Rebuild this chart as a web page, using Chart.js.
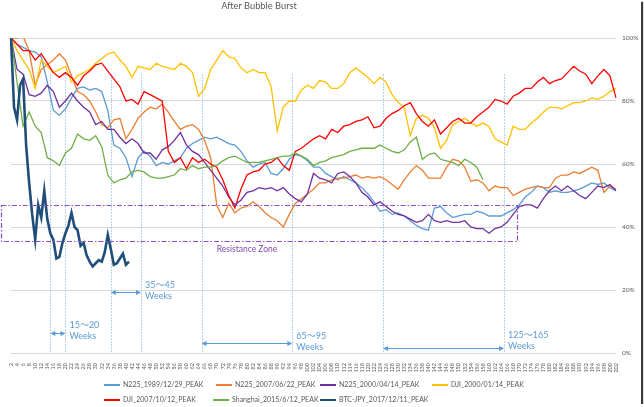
<!DOCTYPE html>
<html>
<head>
<meta charset="utf-8">
<script src="https://cdn.jsdelivr.net/npm/chart.js@4.4.0/dist/chart.umd.min.js"></script>
<style>
  body { margin: 0; background: #fff; }
  #wrap { position: relative; width: 641px; height: 404px; background: #fff; box-shadow: 2px 2px 1px #3c3c3c;
          font-family: Lato, "Noto Sans CJK JP", sans-serif; color: #595959; }
  #chart { position: absolute; left: 0; top: 0; }
  #title { position: absolute; left: 0; top: 0; width: 518px; text-align: center; font-size: 9.3px; line-height: 11px; }
  .leg { position: absolute; font-size: 7px; line-height: 10px; white-space: nowrap; }
  .leg i { display: inline-block; width: 16px; vertical-align: middle; margin-right: 3px; }
</style>
</head>
<body>
<div id="wrap">
  <canvas id="chart" width="641" height="404"></canvas>
  <div id="title">After Bubble Burst</div>
  <div id="legend"></div>
</div>
<script>
// weeks after the peak (category axis)
const weeks = Array.from({ length: 201 }, (_, i) => i + 2);

const seriesNames = ['N225_1989/12/29_PEAK', 'N225_2007/06/22_PEAK', 'N225_2000/04/14_PEAK', 'DJI_2000/01/14_PEAK',
                     'DJI_2007/10/12_PEAK', 'Shanghai_2015/6/12_PEAK', 'BTC-JPY_2017/12/11_PEAK'];
const seriesColors = ['#5B9BD5', '#ED7D31', '#7030A0', '#FFC000', '#FF0000', '#70AD47', '#1F4E79'];

// % of peak, read every 2 weeks (week 2, 4, 6 ...)
const n225_1989 = [
  100, 98, 97, 96, 95.5, 94, 86, 77, 75.5, 77.5,
  81, 84, 84.5, 83.5, 84, 83, 77, 66, 65, 62,
  56, 62, 64, 62.5, 59.5, 60.5, 60, 61, 62, 65,
  66.5, 67.5, 68.5, 68, 68.5, 67.5, 66.5, 66, 64, 61,
  59, 60, 60.5, 57, 56.5, 58.5, 61.5, 63, 62.5, 61,
  59, 59, 57, 56, 55, 56, 55, 54, 52.5, 50.5,
  48, 45, 45.5, 44, 44.5, 43.5, 42, 40.5, 39.5, 39,
  46, 46.5, 44.5, 43, 43.5, 44, 44, 45, 44.5, 43.5,
  43.5, 43.5, 44.5, 45.5, 47, 49.5, 51, 53, 52.5, 51,
  51.5, 51, 51, 51.5, 52, 53, 54, 53.5, 54, 52.5,
  51.5
];
const n225_2007 = [
  100, 100, 100.5, 96, 85, 90, 91.5, 93, 95, 93,
  88, 83, 82, 80, 76.5, 72.5, 71.5, 74, 74.5, 68,
  71, 74.5, 76.5, 78, 77.5, 79, 76.5, 73.5, 71, 72,
  72.5, 71, 67.5, 62, 47, 43, 47.5, 44.5, 46, 46.5,
  48, 46.5, 44.5, 43, 42, 40, 44, 47.5, 49, 50.5,
  52, 54, 54, 55, 55.5, 55.5, 56, 56.5, 55.5, 56,
  55.5, 56, 55, 53.5, 52, 55, 57.5, 59.5, 58, 55.5,
  55.5, 55.5, 59, 61.5, 61, 59, 54.5, 55, 54, 51.5,
  53, 52.5, 52.5, 50, 51, 52, 52.5, 53, 52.5, 52.5,
  55.5, 56.5, 56.5, 57.5, 57, 58, 59, 58, 51, 53,
  52
];
const n225_2000 = [
  100, 90, 88.5, 82, 81.5, 82.5, 85, 83, 78, 80,
  82.5, 80, 78, 76.5, 72.5, 73.5, 71, 71, 68.5, 66.5,
  68, 66.5, 63.5, 63.5, 61.5, 64.5, 65.5, 67.5, 70, 66,
  64, 63, 60.5, 58, 55.5, 53, 49.5, 47, 48.5, 51,
  51.5, 52.5, 52, 52.5, 51.5, 52.5, 50.5, 49, 48, 50.5,
  57, 55.5, 55, 54, 57, 57.5, 56, 54, 51, 49.5,
  47, 48, 46.5, 45, 44, 43.5, 42.5, 41.5, 42, 44,
  42, 41.5, 42, 41.5, 41.5, 42, 40, 39.5, 39.5, 38,
  39.5, 40, 41.5, 44, 46.5, 47, 47, 46, 49, 51.5,
  53, 51.5, 53, 51.5, 50, 49, 51, 53, 52.5, 53.5,
  51.5
];
const dji_2000 = [
  100, 96, 93, 90, 84, 93, 91, 89, 90, 91,
  86, 88, 89, 90, 92, 93.5, 95, 95.5, 93, 91,
  87.5, 91, 90.5, 90, 92, 91, 90.5, 90, 92, 91,
  89, 81.5, 84, 90, 93, 96, 94, 93.5, 90.5, 89,
  90, 89, 89, 84.5, 70.5, 78, 80, 80, 83.5, 85,
  84, 86.5, 86, 84, 84, 85.5, 89, 90.5, 89, 87.5,
  85.5, 87.5, 86, 82, 79.5, 78, 69, 74.5, 75.5, 74.5,
  71.5, 65, 67.5, 72.5, 73.5, 74.5, 73, 72, 73, 72,
  68, 67, 66, 72, 71, 71, 73, 74.5, 76.5, 78,
  78, 77.5, 78.5, 79.5, 79.5, 80, 81, 80.5, 81.5, 83,
  84
];
const dji_2007 = [
  100, 98, 96, 96, 93, 95, 92, 89, 87.5, 89,
  87.5, 85, 88, 89.5, 91.5, 92, 89.5, 87, 84.5, 80,
  80.5, 79, 83, 82, 81, 80, 64, 60.5, 62, 58.5,
  62, 60.5, 61.5, 60, 59, 55, 50, 46, 52, 56.5,
  57.5, 58, 60, 60.5, 62, 59.5, 58, 64, 65, 66.5,
  68, 69, 68, 71, 70, 72, 72.5, 73.5, 74, 75,
  71.5, 72, 74.5, 76, 77, 78.5, 79.5, 76, 73.5, 72,
  74, 69.5, 71.5, 73.5, 74.5, 73, 73, 75, 76.5, 78,
  80.5, 80, 79, 81.5, 82.5, 84, 84, 86, 87.5, 85.5,
  86.5, 87, 89, 91, 89.5, 88.5, 85.5, 88, 90, 88,
  81
];
const shanghai_2015 = [
  100, 86, 72, 76.5, 72, 70, 62, 61, 59.5, 63.5,
  65, 69.5, 68, 67.5, 69, 65.5, 56.5, 54, 55, 55.5,
  57.5, 58, 57.5, 56, 55.5, 55.5, 56, 56.5, 58.5, 58,
  59.5, 58.5, 59, 59, 59.5, 61, 62, 62.5, 61.5, 60.5,
  60.5, 60.5, 61, 61.5, 62, 62.5, 62.5, 63.5, 62.5, 61.5,
  59.5, 60.5, 61, 62, 62.5, 63, 64, 64.5, 65, 65,
  65, 66, 65, 64, 63.5, 64.5, 67, 68.5, 61.5, 63,
  63.5, 61.5, 61, 60.5, 59.5, 61.5, 60.5, 59, 55
];
// BTC read every week (week 2, 3, 4 ...)
const btc_2017 = [
  100, 78, 74, 85, 87, 66, 54, 44, 36, 47,
  43, 51.5, 42.5, 38, 36, 30, 30.5, 35, 38, 40.5,
  44.5, 40, 39, 34, 35, 31, 29, 27.5, 28.5, 29.5,
  29, 32, 37.5, 33, 28, 28.5, 30, 31.5, 28, 29
];

// annotations
const guideWeeks = [15, 20, 35, 45, 65, 95, 125, 165];
const guideTop = 88.5;
const spans = [
  { from: 15, to: 20, label: '15～20', arrowAt: 6.3, textAt: 8.9 },
  { from: 35, to: 45, label: '35～45', arrowAt: 19.4, textAt: 21.6 },
  { from: 65, to: 95, label: '65～95', arrowAt: 3.2, textAt: 5.4 },
  { from: 125, to: 165, label: '125～165', arrowAt: 1.6, textAt: 5.7 }
];
const zoneHigh = 47, zoneLow = 35.5, zoneEndWeek = 169.3;

const everyOther = vals => weeks.map(w => (w % 2 === 0 ? vals[(w - 2) / 2] : null) ?? null);
const weekly = vals => weeks.map((w, i) => vals[i] ?? null);

const seriesData = [everyOther(n225_1989), everyOther(n225_2007), everyOther(n225_2000), everyOther(dji_2000),
                    everyOther(dji_2007), everyOther(shanghai_2015), weekly(btc_2017)];

const datasets = seriesData.map((data, i) => ({
  label: seriesNames[i],
  data,
  borderColor: seriesColors[i],
  borderWidth: i === 6 ? 2.6 : 1.3,
  pointRadius: 0,
  tension: 0,
  spanGaps: true,
  order: seriesData.length - i
}));

const arrow = (ctx, x1, x2, yy) => {
  ctx.strokeStyle = ctx.fillStyle = '#5B9BD5';
  ctx.lineWidth = 1;
  ctx.beginPath(); ctx.moveTo(x1 + 4, yy); ctx.lineTo(x2 - 4, yy); ctx.stroke();
  [[x1, 1], [x2, -1]].forEach(([xx, d]) => {
    ctx.beginPath();
    ctx.moveTo(xx, yy); ctx.lineTo(xx + 5 * d, yy - 2.5); ctx.lineTo(xx + 5 * d, yy + 2.5);
    ctx.closePath(); ctx.fill();
  });
};

const annotations = {
  id: 'annotations',
  beforeDatasetsDraw(chart) {
    const { ctx, scales: { x, y } } = chart;
    ctx.save();
    ctx.strokeStyle = '#9DC3E6';
    ctx.lineWidth = 1;
    ctx.setLineDash([1.5, 1.5]);
    guideWeeks.forEach(w => {
      const px = Math.round(x.getPixelForValue(w - 2)) + 0.5;
      ctx.beginPath();
      ctx.moveTo(px, y.getPixelForValue(guideTop));
      ctx.lineTo(px, y.getPixelForValue(0));
      ctx.stroke();
    });
    ctx.restore();
  },
  afterDatasetsDraw(chart) {
    const { ctx, chartArea, scales: { x, y } } = chart;
    const px = w => x.getPixelForValue(w - 2);
    ctx.save();

    // Resistance zone
    ctx.strokeStyle = '#8E4CC8';
    ctx.lineWidth = 1.2;
    ctx.setLineDash([5, 2, 1.5, 2]);
    const top = Math.round(y.getPixelForValue(zoneHigh)) + 0.5;
    const bottom = Math.round(y.getPixelForValue(zoneLow)) + 0.5;
    const left = chartArea.left - 9.5;
    const right = Math.round(px(zoneEndWeek)) + 0.5;
    ctx.strokeRect(left, top, right - left, bottom - top);
    ctx.setLineDash([]);
    ctx.fillStyle = '#8050B0';
    ctx.font = '8.5px Lato';
    ctx.textBaseline = 'middle';
    ctx.fillText('Resistance Zone', px(70), y.getPixelForValue(33));

    // week spans
    spans.forEach(s => {
      arrow(ctx, px(s.from), px(s.to), Math.round(y.getPixelForValue(s.arrowAt)) + 0.5);
      ctx.fillStyle = '#5B9BD5';
      ctx.font = '9px Lato, "Noto Sans CJK JP"';
      const tx = px(s.to) + 4, ty = y.getPixelForValue(s.textAt);
      ctx.fillText(s.label, tx, ty);
      ctx.fillText('Weeks', tx, ty + 11.5);
    });
    ctx.restore();
  }
};

new Chart(document.getElementById('chart'), {
  type: 'line',
  data: { labels: weeks, datasets },
  options: {
    responsive: false,
    animation: false,
    layout: { padding: { top: 38, left: 11, right: 0, bottom: 0 } },
    plugins: { legend: { display: false }, tooltip: { enabled: false } },
    scales: {
      x: {
        grid: { display: false },
        border: { display: false },
        ticks: {
          autoSkip: false, minRotation: 90, maxRotation: 90, padding: 2,
          color: '#595959', font: { family: 'Lato', size: 5.5 },
          callback: (v, i) => (weeks[i] % 2 === 0 ? String(weeks[i]) : '')
        },
        afterFit: s => { s.height = 51; }
      },
      y: {
        position: 'right',
        min: 0, max: 100,
        grid: { color: '#D9D9D9', drawTicks: false },
        border: { display: false },
        ticks: { stepSize: 20, padding: 6, color: '#595959', font: { family: 'Lato', size: 6.5 }, callback: v => v + '%' },
        afterFit: s => { s.width = 25; }
      }
    }
  },
  plugins: [annotations]
});

// Legend (two rows like the original)
const legendRows = [[0, 1, 2, 3], [4, 5, 6]];
const legendLefts = [[104, 216, 320, 432], [104, 213, 320]];
const legendTops = [379, 394];
document.getElementById('legend').innerHTML = legendRows.map((row, r) => row.map((s, k) => `
  <div class="leg" style="left:${legendLefts[r][k]}px;top:${legendTops[r]}px">
    <i style="height:${s === 6 ? 2.5 : 1.5}px;background:${seriesColors[s]}"></i>${seriesNames[s]}
  </div>`).join('')).join('');
</script>
</body>
</html>
